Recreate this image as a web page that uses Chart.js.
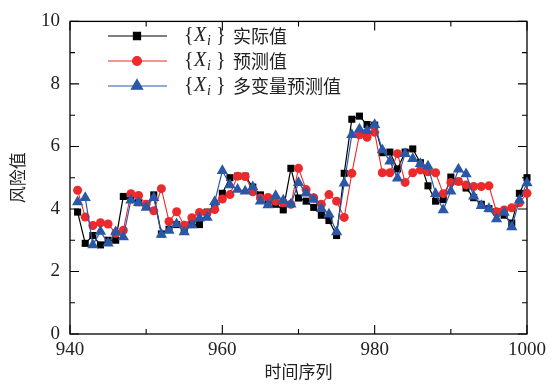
<!DOCTYPE html>
<html lang="zh">
<head>
<meta charset="UTF-8">
<title>风险值 – 时间序列</title>
<script src="https://cdn.jsdelivr.net/npm/chart.js"></script>
<style>
  body { margin: 0; padding: 0; background: #fff; }
  #wrap { width: 555px; height: 385px; }
</style>
</head>
<body>
<div id="wrap"><canvas id="riskChart" width="555" height="385"></canvas></div>
<script>
const timeIdx = [941, 942, 943, 944, 945, 946, 947, 948, 949, 950,
  951, 952, 953, 954, 955, 956, 957, 958, 959, 960,
  961, 962, 963, 964, 965, 966, 967, 968, 969, 970,
  971, 972, 973, 974, 975, 976, 977, 978, 979, 980,
  981, 982, 983, 984, 985, 986, 987, 988, 989, 990,
  991, 992, 993, 994, 995, 996, 997, 998, 999, 1000];

const actual = [3.9, 2.9, 3.15, 2.85, 3.0, 3.0, 4.4, 4.3, 4.2, 4.1,
  4.45, 3.2, 3.35, 3.5, 3.35, 3.5, 3.5, 3.9, 4.1, 4.5,
  5.0, 5.05, 5.05, 4.7, 4.45, 4.25, 4.15, 3.97, 5.3, 4.35,
  4.25, 4.05, 3.8, 3.63, 3.15, 5.14, 6.87, 6.97, 6.7, 6.68,
  5.8, 5.82, 5.28, 5.82, 5.92, 5.48, 4.74, 4.25, 4.3, 5.02,
  4.88, 4.67, 4.36, 4.15, 4.01, 3.91, 3.8, 3.55, 4.5, 5.0];

const predicted = [4.6, 3.74, 3.47, 3.56, 3.52, 3.22, 3.32, 4.49, 4.43, 4.15,
  3.94, 4.65, 3.6, 3.91, 3.48, 3.72, 3.89, 3.87, 3.98, 4.32,
  4.46, 5.05, 5.04, 4.55, 4.35, 4.37, 4.25, 4.2, 4.15, 5.3,
  4.62, 4.36, 4.15, 4.46, 4.25, 3.73, 5.14, 6.37, 6.29, 6.45,
  5.16, 5.16, 5.77, 4.85, 5.16, 5.25, 5.19, 5.16, 4.49, 4.85,
  4.88, 4.77, 4.72, 4.72, 4.74, 3.91, 3.97, 4.04, 4.2, 4.5];

const multiPred = [4.22, 4.36, 2.85, 3.28, 2.9, 3.26, 3.1, 4.28, 4.2, 4.05,
  4.36, 3.18, 3.31, 3.52, 3.26, 3.49, 3.7, 3.73, 4.23, 5.22,
  4.77, 4.62, 4.57, 4.7, 4.25, 4.13, 4.42, 4.28, 4.15, 4.84,
  4.5, 4.3, 4.01, 3.83, 3.26, 4.82, 6.37, 6.55, 6.5, 6.69,
  5.89, 5.53, 4.98, 5.77, 5.61, 5.45, 5.37, 4.49, 3.97, 4.57,
  5.27, 5.12, 4.41, 4.1, 4.01, 3.68, 3.89, 3.42, 4.28, 4.83];

const xMajor = [940, 960, 980, 1000];
const xMinor = [950, 970, 990];
const yMajor = [0, 2, 4, 6, 8, 10];
const yMinor = [1, 3, 5, 7, 9];
const seriesNames = ['实际值', '预测值', '多变量预测值'];

const serif = '"Liberation Serif", "DejaVu Serif", serif';
const cjk = '"Noto Sans CJK SC", sans-serif';

function toPoints(vals) {
  return vals.map((v, i) => ({ x: timeIdx[i], y: v }));
}

// box + inward ticks on all four sides
const frameTicks = {
  id: 'frameTicks',
  beforeDatasetsDraw(chart) {
    const { ctx, chartArea: a, scales: { x, y } } = chart;
    ctx.save();
    ctx.strokeStyle = '#000';
    ctx.lineWidth = 1.3;
    ctx.strokeRect(a.left, a.top, a.right - a.left, a.bottom - a.top);
    ctx.lineWidth = 1.1;
    ctx.beginPath();
    const xt = (vals, len) => vals.forEach(v => {
      const px = x.getPixelForValue(v);
      ctx.moveTo(px, a.bottom); ctx.lineTo(px, a.bottom - len);
      ctx.moveTo(px, a.top); ctx.lineTo(px, a.top + len);
    });
    const yt = (vals, len) => vals.forEach(v => {
      const py = y.getPixelForValue(v);
      ctx.moveTo(a.left, py); ctx.lineTo(a.left + len, py);
      ctx.moveTo(a.right, py); ctx.lineTo(a.right - len, py);
    });
    xt(xMajor, 9); xt(xMinor, 5);
    yt(yMajor, 9); yt(yMinor, 5);
    ctx.stroke();
    ctx.restore();
  }
};

// legend inside the plot, top-left
const innerLegend = {
  id: 'innerLegend',
  afterDraw(chart) {
    const ctx = chart.ctx;
    ctx.save();
    seriesNames.forEach((name, i) => {
      const ds = chart.data.datasets[i];
      const yy = 36 + i * 25;
      ctx.strokeStyle = ds.borderColor;
      ctx.lineWidth = ds.borderWidth;
      ctx.beginPath();
      ctx.moveTo(108, yy); ctx.lineTo(167, yy);
      ctx.stroke();
      ctx.fillStyle = ds.pointBackgroundColor;
      ctx.strokeStyle = ds.pointBorderColor;
      Chart.helpers.drawPoint(ctx, { pointStyle: ds.pointStyle, radius: ds.pointRadius, borderWidth: 1, rotation: 0 }, 137, yy);

      ctx.fillStyle = '#222';
      ctx.textBaseline = 'middle';
      ctx.font = '20px ' + serif;
      ctx.fillText('{', 184, yy);
      ctx.font = 'italic 20px ' + serif;
      ctx.fillText('X', 194, yy);
      ctx.font = 'italic 14px ' + serif;
      ctx.fillText('i', 207, yy + 5);
      ctx.font = '20px ' + serif;
      ctx.fillText('}', 216, yy);
      ctx.font = '18px ' + cjk;
      ctx.fillText(name, 233, yy);
    });
    ctx.restore();
  }
};

const ctx = document.getElementById('riskChart').getContext('2d');
new Chart(ctx, {
  type: 'line',
  data: {
    datasets: [
      {
        label: seriesNames[0], data: toPoints(actual),
        borderColor: '#000', borderWidth: 1.2,
        pointStyle: 'rect', pointRadius: 5,
        pointBackgroundColor: '#000', pointBorderColor: '#000', pointBorderWidth: 0,
        order: 2, clip: false
      },
      {
        label: seriesNames[1], data: toPoints(predicted),
        borderColor: '#ec2a2c', borderWidth: 1.1,
        pointStyle: 'circle', pointRadius: 4.5,
        pointBackgroundColor: '#ec2a2c', pointBorderColor: '#ec2a2c', pointBorderWidth: 0,
        order: 1, clip: false
      },
      {
        label: seriesNames[2], data: toPoints(multiPred),
        borderColor: '#2a58a6', borderWidth: 1.2,
        pointStyle: 'triangle', pointRadius: 6.5,
        pointBackgroundColor: '#2a58a6', pointBorderColor: '#2a58a6', pointBorderWidth: 0,
        order: 0, clip: false
      }
    ]
  },
  options: {
    responsive: false,
    devicePixelRatio: 1,
    animation: false,
    layout: { padding: { left: 0, right: 28, top: 15, bottom: 0 } },
    plugins: { legend: { display: false }, tooltip: { enabled: false } },
    elements: { line: { tension: 0 } },
    scales: {
      x: {
        type: 'linear', min: 940, max: 1000,
        afterBuildTicks: s => { s.ticks = xMajor.map(v => ({ value: v })); },
        afterFit: s => { s.height = 51; },
        grid: { display: false, drawTicks: false },
        border: { display: false },
        ticks: { font: { family: serif, size: 19 }, color: '#222', padding: 5, maxRotation: 0,
                 callback: v => String(v) },
        title: { display: true, text: '时间序列', font: { family: cjk, size: 17 }, color: '#222', padding: { top: 0, bottom: 3 } }
      },
      y: {
        min: 0, max: 10,
        afterBuildTicks: s => { s.ticks = yMajor.map(v => ({ value: v })); },
        afterFit: s => { s.width = 70; },
        grid: { display: false, drawTicks: false },
        border: { display: false },
        ticks: { font: { family: serif, size: 19 }, color: '#222', padding: 10, callback: v => String(v) },
        title: { display: true, text: '风险值', font: { family: cjk, size: 17 }, color: '#222', padding: { top: 7, bottom: 0 } }
      }
    }
  },
  plugins: [frameTicks, innerLegend]
});
</script>
</body>
</html>
